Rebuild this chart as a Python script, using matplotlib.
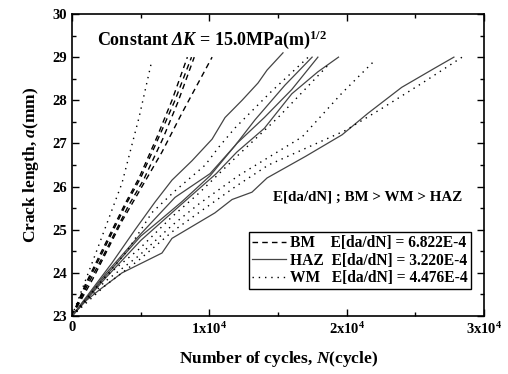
import numpy as np
import matplotlib
matplotlib.use('Agg')
import matplotlib.pyplot as plt
from matplotlib.ticker import MultipleLocator, FuncFormatter

# crack length a (mm) vs number of cycles N
bm_n = [
    [0, 1000, 2000, 3860, 4880, 6190, 7280, 8400],
    [0, 1000, 2100, 3950, 5000, 6400, 7500, 8700],
    [0, 1100, 2200, 4100, 5200, 6600, 7700, 8900],
    [0, 1500, 3640, 5460, 6550, 8000, 10200],
]
bm_a = [
    [23, 23.75, 24.4, 25.6, 26.2, 27.15, 28.0, 29.0],
    [23, 23.7, 24.4, 25.6, 26.2, 27.2, 28.0, 29.0],
    [23, 23.7, 24.35, 25.55, 26.15, 27.1, 27.95, 29.0],
    [23, 23.85, 25.2, 26.2, 26.8, 27.7, 29.0],
]
haz_n = [
    [0, 2910, 4590, 6040, 7280, 8740, 10200, 11140, 12380, 13540, 14200, 15360],
    [0, 2500, 5000, 7500, 10050, 11870, 13330, 15500, 17480],
    [0, 2500, 5000, 6330, 8000, 10050, 12000, 14000, 16000, 17900],
    [0, 2500, 5000, 8000, 10500, 12000, 14000, 16000, 17900, 19400],
    [0, 1000, 1970, 3640, 6550, 7280, 10400, 11650, 13100, 14200, 17000,
     19660, 21550, 24000, 26430, 27800],
]
haz_a = [
    [23, 24.23, 25.0, 25.64, 26.15, 26.6, 27.1, 27.6, 28.0, 28.4, 28.7, 29.1],
    [23, 24.0, 24.9, 25.75, 26.3, 26.95, 27.55, 28.35, 29.0],
    [23, 23.95, 24.85, 25.2, 25.65, 26.25, 27.0, 27.6, 28.25, 29.0],
    [23, 23.9, 24.75, 25.6, 26.3, 26.8, 27.35, 28.15, 28.66, 29.0],
    [23, 23.35, 23.6, 24.0, 24.46, 24.8, 25.39, 25.7, 25.87, 26.2, 26.7,
     27.2, 27.7, 28.3, 28.75, 29.0],
]
wm_n = [
    [0, 1820, 3640, 4880, 5820],
    [0, 2000, 4000, 5830, 7500, 9700, 10700, 11870, 14500, 17200],
    [0, 2400, 4880, 7280, 9250, 12000, 15000, 18600],
    [0, 2400, 4880, 7280, 9250, 12100, 16750, 19660, 22060],
    [0, 2400, 4880, 7280, 9250, 11900, 14300, 19900, 22500, 25500, 28400],
]
wm_a = [
    [23, 24.53, 26.08, 27.6, 28.93],
    [23, 23.75, 24.5, 25.4, 25.9, 26.5, 26.92, 27.36, 28.2, 29.0],
    [23, 23.9, 24.55, 25.3, 25.85, 26.7, 27.6, 28.8],
    [23, 23.8, 24.4, 25.1, 25.6, 26.25, 27.15, 28.17, 28.93],
    [23, 23.7, 24.3, 24.95, 25.4, 26.0, 26.5, 27.3, 27.8, 28.4, 29.0],
]
labels = ['BM    E[da/dN] = 6.822E-4',
          'HAZ  E[da/dN] = 3.220E-4',
          'WM   E[da/dN] = 4.476E-4']

plt.rcParams['font.family'] = 'Liberation Serif'
plt.rcParams['font.weight'] = 'bold'
plt.rcParams['mathtext.fontset'] = 'custom'
plt.rcParams['mathtext.rm'] = 'Liberation Serif:bold'
plt.rcParams['mathtext.it'] = 'Liberation Serif:bold:italic'
plt.rcParams['mathtext.bf'] = 'Liberation Serif:bold'
# italic capital Greek (mathtext keeps \Delta upright in 'it')
plt.rcParams['mathtext.sf'] = 'Liberation Serif:bold:italic'

fig = plt.figure(figsize=(5.08, 3.74), dpi=100)
ax = fig.add_axes([0.1417, 0.155, 0.8113, 0.8076])

for i, (n, a) in enumerate(zip(bm_n, bm_a)):
    ax.plot(n, a, color='black', ls=(0, (4, 3)), lw=1.0,
            label=labels[0] if i == 0 else None)
for i, (n, a) in enumerate(zip(haz_n, haz_a)):
    ax.plot(n, a, color='#444444', ls='-', lw=0.9,
            label=labels[1] if i == 0 else None)
for i, (n, a) in enumerate(zip(wm_n, wm_a)):
    ax.plot(n, a, color='black', ls=(0, (1, 3.5)), lw=1.0,
            label=labels[2] if i == 0 else None)

ax.set_xlim(0, 30000)
ax.set_ylim(23, 30)
ax.xaxis.set_major_locator(MultipleLocator(10000))
ax.xaxis.set_minor_locator(MultipleLocator(5000))
ax.yaxis.set_major_locator(MultipleLocator(1))
ax.yaxis.set_minor_locator(MultipleLocator(0.5))


def xfmt(v, pos):
    if v == 0:
        return '0'
    return r'$\mathrm{%dx10}^{4}$' % int(round(v / 10000))


ax.xaxis.set_major_formatter(FuncFormatter(xfmt))
ax.tick_params(which='both', direction='in', top=True, right=True,
               labelsize=10.5)
ax.tick_params(which='major', length=5, width=1)
ax.tick_params(which='minor', length=3, width=1)
for s in ax.spines.values():
    s.set_linewidth(1.2)

ax.set_xlabel(r'Number of cycles, $N$(cycle)', fontsize=12.5,
              fontweight='bold', labelpad=9)
ax.set_ylabel(r'Crack length, $a$(mm)', fontsize=12.5, fontweight='bold',
              labelpad=8)

ax.text(0.06, 0.915,
        r'Constant $\mathsf{\Delta}K$ = 15.0MPa(m)$^{\mathrm{1/2}}$',
        transform=ax.transAxes, fontsize=13, fontweight='bold', va='center')
ax.text(0.947, 0.395, 'E[da/dN] ; BM > WM > HAZ', transform=ax.transAxes,
        fontsize=10.8, fontweight='bold', ha='right', va='center')

leg = ax.legend(loc='upper left', bbox_to_anchor=(0.4296, 0.278),
                fontsize=11.2, frameon=True, fancybox=False,
                edgecolor='black', framealpha=1, handlelength=2.2,
                handletextpad=0.25, borderpad=0.2, labelspacing=0.1,
                borderaxespad=0)
leg.get_frame().set_linewidth(1.0)

fig.savefig('out.png', dpi=100)
